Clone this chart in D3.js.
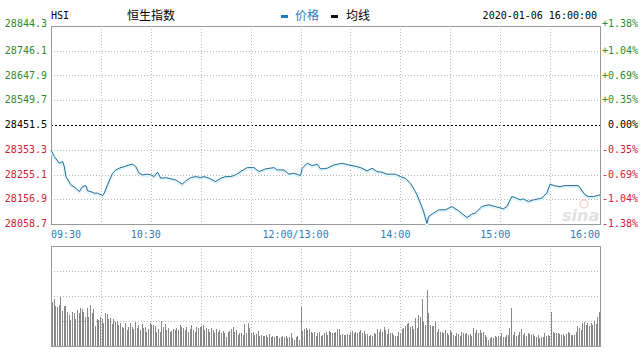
<!DOCTYPE html>
<html>
<head>
<meta charset="utf-8">
<script src="https://cdn.jsdelivr.net/npm/d3@7"></script>
<style>
  body { margin: 0; background: #fff; }
  text { font-family: "DejaVu Sans Mono", monospace; font-size: 10px; }
  .cjk { font-family: "Noto Sans CJK SC", sans-serif; font-size: 12px; }
</style>
</head>
<body>
<svg id="chart" width="642" height="352"></svg>
<script>
// previous close and axis ticks
var prevClose = 28451.5;
var priceTicks = [28844.3, 28746.1, 28647.9, 28549.7, 28451.5, 28353.3, 28255.1, 28156.9, 28058.7];
var pctLabels = ["+1.38%", "+1.04%", "+0.69%", "+0.35%", "0.00%", "-0.35%", "-0.69%", "-1.04%", "-1.38%"];
var timeLabels = ["09:30", "10:30", "12:00/13:00", "14:00", "15:00", "16:00"];
var timeTicks = [0, 60, 150, 210, 270, 330];   // trading minutes since open

// intraday price (minute since open, index level)
var minutes = [0,2,5,7,8,9,12,15,17,19,21,22,24,26,28,31,32,34,37,39,
  41,44,47,49,51,53,55,58,60,62,64,66,69,72,75,77,79,81,84,87,
  90,92,95,99,102,105,108,111,114,118,122,125,129,134,136,140,143,146,150,151,
  154,157,160,162,166,170,175,179,184,187,190,193,196,199,202,207,210,213,216,219,
  220,222,224,226,227,230,233,237,241,245,250,253,255,259,263,267,272,274,277,279,
  282,284,287,290,295,298,300,303,306,309,313,317,321,323,326,330];
var prices = [28352.5,28326.0,28299.8,28306.2,28286.4,28246.8,28213.9,28200.8,28187.4,28207.2,
  28211.1,28190.2,28187.4,28181.1,28181.1,28171.6,28181.1,28213.9,28260.2,28273.3,
  28280.0,28286.4,28293.1,28295.9,28286.4,28260.2,28253.5,28256.3,28253.5,28246.8,
  28264.2,28240.4,28242.8,28237.7,28233.7,28224.6,28216.7,28229.8,28242.8,28246.8,
  28242.8,28246.8,28240.4,28227.0,28240.4,28246.8,28246.8,28253.5,28266.6,28282.4,
  28282.4,28266.6,28277.3,28282.4,28273.3,28273.3,28256.3,28260.2,28250.7,28280.0,
  28299.8,28290.3,28295.9,28277.3,28280.0,28293.1,28299.8,28293.1,28286.4,28280.0,
  28269.3,28280.0,28266.6,28264.2,28256.3,28256.3,28246.8,28240.4,28220.6,28187.4,
  28174.3,28142.6,28107.0,28061.0,28088.4,28101.9,28114.9,28114.9,28128.0,28111.0,
  28084.4,28097.9,28101.9,28128.0,28134.7,28128.0,28118.9,28128.0,28167.6,28163.6,
  28154.5,28158.5,28147.8,28154.5,28161.3,28181.1,28216.7,28210.0,28207.2,28211.1,
  28211.1,28211.1,28174.3,28167.6,28167.6,28174.3];

// volume per minute (relative units, one bar per minute 0..330)
var volumes = [44,
  47,40,39,41,49,35,40,40,34,31, 26,34,33,27,36,33,38,37,34,29,
  38,29,41,33,37,20,27,26,29,27, 23,33,32,27,28,22,27,24,25,21,
  23,19,18,23,16,19,23,19,17,24, 18,21,16,22,18,19,14,17,23,21,
  21,20,14,17,14,25,19,22,16,18, 14,15,17,16,18,16,21,19,18,16,
  19,14,17,21,16,14,19,18,19,20, 21,16,18,17,14,18,16,13,17,14,
  16,13,15,13,9,14,15,17,19,14, 16,11,13,13,11,22,13,23,18,13,
  14,11,12,15,10,11,10,10,11,9, 12,9,10,9,10,10,8,9,10,9,
  10,8,9,13,8,6,9,10,6,39, 15,17,18,16,17,14,13,14,10,13,
  14,10,11,13,14,
  11,15,14,13,13,14,17,17,11,12, 11,11,12,11,14,15,13,14,13,14,
  16,13,15,12,12,10,11,10,13,12, 17,14,17,14,19,16,12,17,13,13,
  11,10,10,14,13,17,18,20,22,23, 19,20,17,28,18,31,29,47,24,21,
  56,33,21,20,20,25,14,17,14,14, 13,16,13,11,16,14,11,10,13,12,
  10,14,13,12,13,11,12,10,18,13, 16,13,16,13,14,11,9,6,8,9,
  8,10,9,10,9,13,9,9,11,11, 18,38,11,14,10,11,14,17,11,13,
  10,13,12,11,12,10,9,11,8,9, 9,13,10,11,10,34,14,13,13,13,
  12,11,12,10,12,14,13,11,11,11, 14,20,18,16,23,24,21,23,20,23,
  21,25,22,29,34];

var svg = d3.select("#chart");
var plotL = 51, plotR = 600, plotT = 26, plotB = 224;
var volT = 246, volB = 346;

var x = d3.scaleLinear().domain([0, 330]).range([plotL, plotR]);
var xBar = d3.scaleLinear().domain([0, 330]).range([plotL + 1, plotR - 1]);
var y = d3.scaleLinear().domain([priceTicks[8], priceTicks[0]]).range([plotB, plotT]);
var yVol = d3.scaleLinear().domain([0, 100]).range([volB, volT]);

var gridColor = "#b8b8b8";
var borderColor = "#999";
var green = "#2e8b2e", red = "#cc2233", blue = "#2a7db8";

svg.append("rect").attr("width", 642).attr("height", 352).attr("fill", "#fff");

// ---- header
svg.append("text").attr("x", 51).attr("y", 19).text("HSI");
svg.append("text").attr("class", "cjk").attr("x", 127).attr("y", 20).text("恒生指数");
svg.append("rect").attr("x", 281).attr("y", 15).attr("width", 7).attr("height", 3).attr("fill", "#1e78c2");
svg.append("text").attr("class", "cjk").attr("x", 295).attr("y", 20).attr("fill", blue).text("价格");
svg.append("rect").attr("x", 331).attr("y", 15).attr("width", 7).attr("height", 3).attr("fill", "#111");
svg.append("text").attr("class", "cjk").attr("x", 346).attr("y", 20).text("均线");
svg.append("text").attr("x", 597).attr("y", 19).attr("text-anchor", "end").text("2020-01-06 16:00:00");

// ---- price panel grid
var grid = svg.append("g");
grid.selectAll("line.h")
  .data(priceTicks.slice(1, 8))
  .enter().append("line")
    .attr("x1", plotL).attr("x2", plotR)
    .attr("y1", function(d){ return Math.round(y(d)) + 0.5 })
    .attr("y2", function(d){ return Math.round(y(d)) + 0.5 })
    .attr("stroke", function(d){ return d == prevClose ? "#000" : gridColor })
    .attr("stroke-dasharray", function(d){ return d == prevClose ? "2,2" : "1,2" });

var vGrid = d3.range(30, 330, 30);
grid.selectAll("line.v")
  .data(vGrid)
  .enter().append("line")
    .attr("x1", function(d){ return Math.round(x(d)) + 0.5 })
    .attr("x2", function(d){ return Math.round(x(d)) + 0.5 })
    .attr("y1", plotT).attr("y2", plotB)
    .attr("stroke", gridColor)
    .attr("stroke-dasharray", "1,2");

svg.append("rect")
  .attr("x", plotL + 0.5).attr("y", plotT + 0.5)
  .attr("width", plotR - plotL).attr("height", plotB - plotT)
  .attr("fill", "none").attr("stroke", borderColor);

// left price labels
svg.selectAll("text.price")
  .data(priceTicks)
  .enter().append("text")
    .attr("x", 47)
    .attr("y", function(d, i){ return y(d) + (i == 0 ? 1 : 3) })
    .attr("text-anchor", "end")
    .attr("fill", function(d){ return d > prevClose ? green : (d < prevClose ? red : "#000") })
    .text(function(d){ return d3.format(".1f")(d) });

// right percent labels
svg.selectAll("text.pct")
  .data(pctLabels)
  .enter().append("text")
    .attr("x", 638)
    .attr("y", function(d, i){ return y(priceTicks[i]) + (i == 0 ? 1 : 3) })
    .attr("text-anchor", "end")
    .attr("fill", function(d, i){ return i < 4 ? green : (i > 4 ? red : "#000") })
    .text(function(d){ return d });

// time labels
svg.selectAll("text.time")
  .data(timeTicks)
  .enter().append("text")
    .attr("x", function(d, i){
      if (i == 0) return plotL;
      if (i == timeTicks.length - 1) return plotR;
      return x(d) - 5;
    })
    .attr("y", 238)
    .attr("text-anchor", function(d, i){ return i == 0 ? "start" : (i == timeTicks.length - 1 ? "end" : "middle") })
    .attr("fill", blue)
    .text(function(d, i){ return timeLabels[i] });

// watermark
var wm = svg.append("g").attr("opacity", 0.45);
wm.append("circle").attr("cx", 584).attr("cy", 204).attr("r", 4)
  .attr("fill", "none").attr("stroke", "#f0a0a0").attr("stroke-width", 1.5);
wm.append("text").attr("x", 562).attr("y", 221)
  .style("font-family", "DejaVu Sans").style("font-size", "16px")
  .style("font-style", "italic").style("font-weight", "bold")
  .attr("fill", "#bbb").text("sina");

// ---- price line
var pts = minutes.map(function(m, i){ return [m, prices[i]] });
var line = d3.line()
  .x(function(d){ return x(d[0]) })
  .y(function(d){ return y(d[1]) });

svg.append("path")
  .datum(pts)
  .attr("d", line)
  .attr("fill", "none")
  .attr("stroke", "#e2f5fc")
  .attr("stroke-width", 3)
  .attr("transform", "translate(0,1)");

svg.append("path")
  .datum(pts)
  .attr("d", line)
  .attr("fill", "none")
  .attr("stroke", "#236d96")
  .attr("stroke-width", 1);

// ---- volume panel
var vg = svg.append("g");
vg.selectAll("line.h")
  .data([25, 50, 75])
  .enter().append("line")
    .attr("x1", plotL).attr("x2", plotR)
    .attr("y1", function(d){ return yVol(d) + 0.5 })
    .attr("y2", function(d){ return yVol(d) + 0.5 })
    .attr("stroke", gridColor)
    .attr("stroke-dasharray", "1,2");
vg.selectAll("line.v")
  .data(vGrid)
  .enter().append("line")
    .attr("x1", function(d){ return Math.round(x(d)) + 0.5 })
    .attr("x2", function(d){ return Math.round(x(d)) + 0.5 })
    .attr("y1", volT).attr("y2", volB)
    .attr("stroke", gridColor)
    .attr("stroke-dasharray", "1,2");

vg.selectAll("rect.bar")
  .data(volumes)
  .enter().append("rect")
    .attr("x", function(d, i){ return Math.round(xBar(i)) })
    .attr("y", function(d){ return yVol(d) })
    .attr("width", 1)
    .attr("height", function(d){ return volB - yVol(d) })
    .attr("fill", "#888")
    .attr("shape-rendering", "crispEdges");

svg.append("rect")
  .attr("x", plotL + 0.5).attr("y", volT + 0.5)
  .attr("width", plotR - plotL).attr("height", volB - volT)
  .attr("fill", "none").attr("stroke", borderColor);
</script>
</body>
</html>
